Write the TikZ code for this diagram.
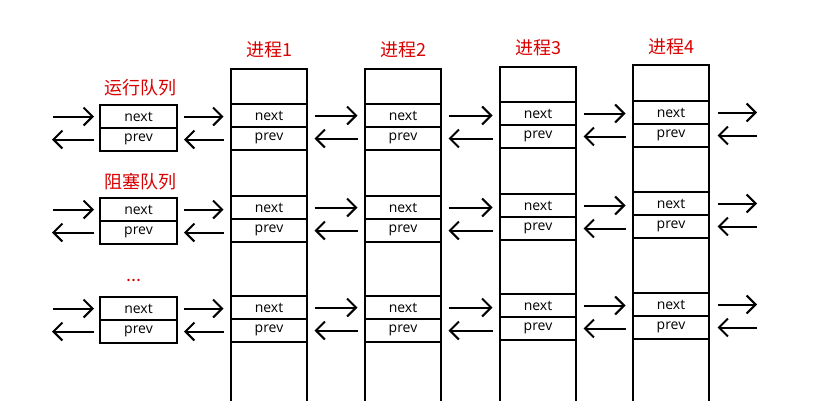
\documentclass[tikz,border=0pt]{standalone}
\usepackage{fontspec}
\setmainfont{Open Sans}
\newfontfamily\cjk{Noto Sans CJK SC}
\usetikzlibrary{arrows.meta}
\begin{document}
\begin{tikzpicture}[x=1pt,y=-1pt,
  cell/.style={draw,line width=1.5pt,minimum width=77pt,minimum height=23pt,inner sep=0pt,outer sep=0pt,font=\fontsize{14}{14}\selectfont},
  col/.style={draw,line width=1.5pt},
  arr/.style={line width=2pt,-{Straight Barb[length=9pt,width=18pt]}},
  lab/.style={text=red!85!black,font=\cjk\fontsize{18}{18}\selectfont}]
\useasboundingbox (0,0) rectangle (821,400);
% process columns
\foreach \n/\x/\t in {1/231/69,2/365/69,3/500/67,4/633/65}{
  \draw[col] (\x,420) -- (\x,\t) -- (\x+76,\t) -- (\x+76,420);
}
\node[lab] (p1) at (269,50) {进程1};
\node[lab] (p2) at (403,50) {进程2};
\node[lab] (p3) at (538,48) {进程3};
\node[lab] (p4) at (671,47) {进程4};
\node[lab] (q1) at (140,88) {运行队列};
\node[lab] (q2) at (140,182) {阻塞队列};
\node[lab] (q3) at (134,280) {...};
\foreach \r/\y/\a/\b/\c/\d in {1/116.5/115.5/115.5/113.5/112.5, 2/209.5/207.5/207.5/205.5/203.5, 3/308.5/307.5/307.5/305.5/304.5}{
  \node[cell] (qn\r) at (138.5,\y) {next};
  \node[cell,anchor=north] (qp\r) at (qn\r.south) {prev};
  \node[cell] (an\r) at (269,\a) {next};
  \node[cell,anchor=north] (ap\r) at (an\r.south) {prev};
  \node[cell] (bn\r) at (403,\b) {next};
  \node[cell,anchor=north] (bp\r) at (bn\r.south) {prev};
  \node[cell] (cn\r) at (538,\c) {next};
  \node[cell,anchor=north] (cp\r) at (cn\r.south) {prev};
  \node[cell] (dn\r) at (671,\d) {next};
  \node[cell,anchor=north] (dp\r) at (dn\r.south) {prev};
  \coordinate (lp\r) at (52,\y+23);
  \coordinate (rs\r) at (757,\d);
  \coordinate (rp\r) at (757,\d+23);
  \draw[arr] ([xshift=-47pt]qn\r.west) -- ([xshift=-6pt]qn\r.west);
  \draw[arr] ([xshift=-6pt]qp\r.west) -- (lp\r);
  \draw[arr] ([xshift=8pt]dn\r.east) -- (rs\r);
  \draw[arr] (rp\r) -- ([xshift=8pt]dp\r.east);
  \foreach \u/\v in {q/a,a/b,b/c,c/d}{
    \draw[arr] ([xshift=7pt]\u n\r.east) -- ([xshift=-7pt]\u n\r.east -| \v n\r.west);
    \draw[arr] ([xshift=-7pt]\u p\r.east -| \v p\r.west) -- ([xshift=7pt]\u p\r.east);
  }
}
\end{tikzpicture}
\end{document}
